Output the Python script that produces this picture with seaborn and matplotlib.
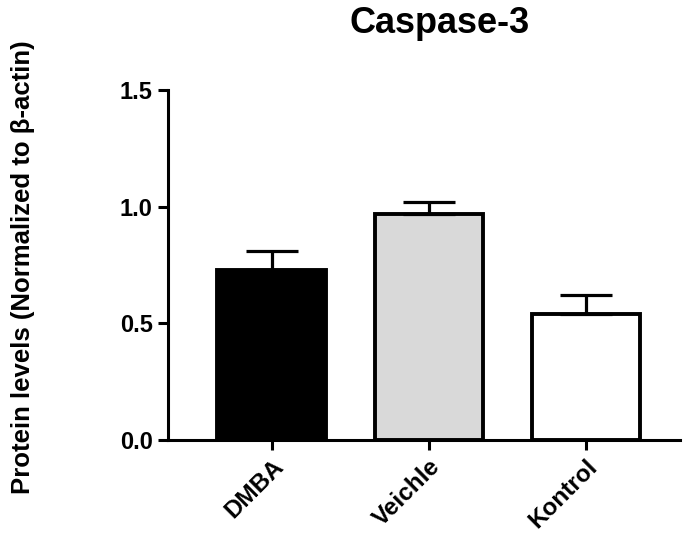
import seaborn as sns
import matplotlib.pyplot as plt
import pandas as pd

groups = ['DMBA', 'Veichle', 'Kontrol']
means = [0.73, 0.97, 0.54]
sem = [0.08, 0.05, 0.08]
colors = ['#000000', '#d9d9d9', '#ffffff']

sns.set_style('ticks')
plt.rcParams['font.family'] = ['Liberation Sans', 'DejaVu Sans']
for k in ['text.color', 'axes.labelcolor', 'xtick.color', 'ytick.color', 'axes.edgecolor']:
    plt.rcParams[k] = 'black'

df = pd.DataFrame({'group': groups, 'value': means})

fig = plt.figure(figsize=(6.85, 5.45), dpi=100)
ax = fig.add_axes([0.245, 0.193, 0.748, 0.642])

sns.barplot(data=df, x='group', y='value', hue='group', palette=colors,
            width=0.69, edgecolor='black', linewidth=2.8, legend=False, ax=ax)

# upward-only error bars
ax.errorbar(range(len(groups)), means, yerr=[[0] * len(groups), sem],
            fmt='none', ecolor='black', elinewidth=2.3, capsize=19,
            capthick=2.3, zorder=1)

ax.set_ylim(0, 1.5)
ax.set_xlim(-0.66, 2.6)
ax.set_yticks([0.0, 0.5, 1.0, 1.5])
ax.set_yticklabels(['0.0', '0.5', '1.0', '1.5'], fontsize=17, fontweight='bold')
ax.set_xticks(range(len(groups)))
ax.set_xticklabels(groups, fontsize=17.5, fontweight='bold', rotation=45,
                   ha='right', rotation_mode='anchor')
ax.set_xlabel('')
ax.set_ylabel('Protein levels (Normalized to β-actin)', fontsize=18.5,
              fontweight='bold', va='center')
ax.yaxis.set_label_coords(-0.283, 0.494)

sns.despine(ax=ax)
for s in ['left', 'bottom']:
    ax.spines[s].set_linewidth(2.2)
ax.tick_params(width=2.2, length=7, pad=4)

fig.text(0.641, 0.939, 'Caspase-3', fontsize=26, fontweight='bold',
         ha='center', va='baseline')

fig.savefig('out.png', dpi=100, facecolor='white')
